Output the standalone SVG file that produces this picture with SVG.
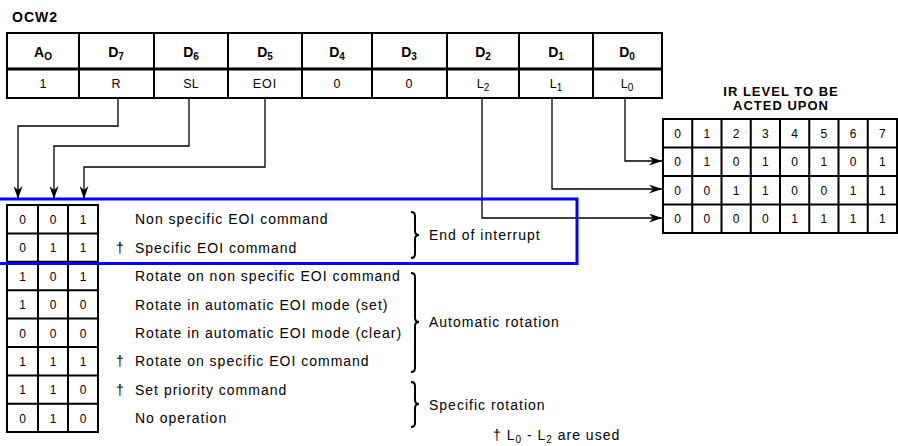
<svg xmlns="http://www.w3.org/2000/svg" width="898" height="446" viewBox="0 0 898 446">
<defs>
<style>
text{font-family:"Liberation Sans",Arial,sans-serif;fill:#000}
.hd{font-size:14px;font-weight:bold;text-anchor:middle}
.cv{font-size:12.5px;text-anchor:middle}
.dg{font-size:12px;text-anchor:middle}
.ds{font-size:14px;letter-spacing:1px}
.ttl{font-size:13px;font-weight:bold}
.ln{fill:none;stroke:#000;stroke-width:1.3}
.grid{fill:none;stroke:#000;stroke-width:2}
.brace{fill:none;stroke:#000;stroke-width:2}
.sub{font-size:10px}
</style>
<marker id="arr" viewBox="0 0 13 9" refX="13" refY="4.5" markerWidth="13" markerHeight="9" markerUnits="userSpaceOnUse" orient="auto">
<path d="M0,0 L13,4.5 L0,9 L4,4.5 z" fill="#000"/>
</marker>
</defs>
<rect width="898" height="446" fill="#fff"/>

<text class="ttl" x="12" y="22" style="font-size:14px;letter-spacing:1px">OCW2</text>

<g id="ocw2-register">
<rect class="grid" x="7" y="33" width="655" height="65"/>
<line x1="7" y1="69" x2="662" y2="69" stroke="#000" stroke-width="3"/>
<path class="grid" d="M79 33V98M154 33V98M228 33V98M302 33V98M372 33V98M447 33V98M519 33V98M593 33V98"/>
<text class="hd" x="43" y="57">A<tspan class="sub" dy="3">O</tspan></text>
<text class="hd" x="116" y="57">D<tspan class="sub" dy="3">7</tspan></text>
<text class="hd" x="191" y="57">D<tspan class="sub" dy="3">6</tspan></text>
<text class="hd" x="265" y="57">D<tspan class="sub" dy="3">5</tspan></text>
<text class="hd" x="337" y="57">D<tspan class="sub" dy="3">4</tspan></text>
<text class="hd" x="409" y="57">D<tspan class="sub" dy="3">3</tspan></text>
<text class="hd" x="483" y="57">D<tspan class="sub" dy="3">2</tspan></text>
<text class="hd" x="556" y="57">D<tspan class="sub" dy="3">1</tspan></text>
<text class="hd" x="627" y="57">D<tspan class="sub" dy="3">0</tspan></text>
<text class="cv" x="43" y="88">1</text>
<text class="cv" x="116" y="88">R</text>
<text class="cv" x="191" y="88">SL</text>
<text class="cv" x="265" y="88" style="letter-spacing:1px">EOI</text>
<text class="cv" x="337" y="88">0</text>
<text class="cv" x="409" y="88">0</text>
<text class="cv" x="483" y="88">L<tspan class="sub" dy="3">2</tspan></text>
<text class="cv" x="556" y="88">L<tspan class="sub" dy="3">1</tspan></text>
<text class="cv" x="627" y="88">L<tspan class="sub" dy="3">0</tspan></text>
</g>

<g id="ir-level-table">
<text class="ttl" x="781" y="96" text-anchor="middle" style="letter-spacing:1px">IR LEVEL TO BE</text>
<text class="ttl" x="781" y="110" text-anchor="middle" style="letter-spacing:1px">ACTED UPON</text>
<rect class="grid" x="663" y="119" width="234" height="114"/>
<path class="grid" d="M663 147.5H897M663 176H897M663 204.5H897M692.25 119V233M721.5 119V233M750.75 119V233M780 119V233M809.25 119V233M838.5 119V233M867.75 119V233"/>
<g class="dg">
<text x="677.6" y="137.5">0</text><text x="706.9" y="137.5">1</text><text x="736.1" y="137.5">2</text><text x="765.4" y="137.5">3</text><text x="794.6" y="137.5">4</text><text x="823.9" y="137.5">5</text><text x="853.1" y="137.5">6</text><text x="882.4" y="137.5">7</text>
<text x="677.6" y="166">0</text><text x="706.9" y="166">1</text><text x="736.1" y="166">0</text><text x="765.4" y="166">1</text><text x="794.6" y="166">0</text><text x="823.9" y="166">1</text><text x="853.1" y="166">0</text><text x="882.4" y="166">1</text>
<text x="677.6" y="194.5">0</text><text x="706.9" y="194.5">0</text><text x="736.1" y="194.5">1</text><text x="765.4" y="194.5">1</text><text x="794.6" y="194.5">0</text><text x="823.9" y="194.5">0</text><text x="853.1" y="194.5">1</text><text x="882.4" y="194.5">1</text>
<text x="677.6" y="223">0</text><text x="706.9" y="223">0</text><text x="736.1" y="223">0</text><text x="765.4" y="223">0</text><text x="794.6" y="223">1</text><text x="823.9" y="223">1</text><text x="853.1" y="223">1</text><text x="882.4" y="223">1</text>
</g>
</g>

<g id="connectors">
<path class="ln" d="M118 98V126H18V199" marker-end="url(#arr)"/>
<path class="ln" d="M189 98V146H54V199" marker-end="url(#arr)"/>
<path class="ln" d="M265 98V167H84V199" marker-end="url(#arr)"/>
<path class="ln" d="M625 98V161H662" marker-end="url(#arr)"/>
<path class="ln" d="M552 98V189H662" marker-end="url(#arr)"/>
<path class="ln" d="M482 98V218H662" marker-end="url(#arr)"/>
</g>

<g id="command-table">
<rect class="grid" x="7" y="205" width="91" height="227"/>
<path class="grid" d="M38 205V432M68 205V432M7 233.4H98M7 261.8H98M7 290.2H98M7 318.6H98M7 347H98M7 375.4H98M7 403.8H98"/>
<g class="dg">
<text x="22.5" y="223.5">0</text><text x="53" y="223.5">0</text><text x="83" y="223.5">1</text>
<text x="22.5" y="252">0</text><text x="53" y="252">1</text><text x="83" y="252">1</text>
<text x="22.5" y="280.5">1</text><text x="53" y="280.5">0</text><text x="83" y="280.5">1</text>
<text x="22.5" y="309">1</text><text x="53" y="309">0</text><text x="83" y="309">0</text>
<text x="22.5" y="337.5">0</text><text x="53" y="337.5">0</text><text x="83" y="337.5">0</text>
<text x="22.5" y="365.5">1</text><text x="53" y="365.5">1</text><text x="83" y="365.5">1</text>
<text x="22.5" y="394">1</text><text x="53" y="394">1</text><text x="83" y="394">0</text>
<text x="22.5" y="422.5">0</text><text x="53" y="422.5">1</text><text x="83" y="422.5">0</text>
</g>
</g>

<g id="descriptions">
<text class="ds" x="135" y="224">Non specific EOI command</text>
<text class="ds" x="116" y="252.5">†</text>
<text class="ds" x="135" y="252.5">Specific EOI command</text>
<text class="ds" x="135" y="281">Rotate on non specific EOI command</text>
<text class="ds" x="135" y="309.5">Rotate in automatic EOI mode (set)</text>
<text class="ds" x="135" y="338">Rotate in automatic EOI mode (clear)</text>
<text class="ds" x="116" y="366">†</text>
<text class="ds" x="135" y="366">Rotate on specific EOI command</text>
<text class="ds" x="116" y="394.5">†</text>
<text class="ds" x="135" y="394.5">Set priority command</text>
<text class="ds" x="135" y="423">No operation</text>
</g>

<g id="group-end-of-interrupt">
<path class="brace" d="M411 212Q415 212 415 216V231Q415 235 419 235Q415 235 415 239V254Q415 258 411 258"/>
<text class="ds" x="429" y="240">End of interrupt</text>
</g>
<g id="group-automatic-rotation">
<path class="brace" d="M411 273Q415 273 415 277V318Q415 322 419 322Q415 322 415 326V368Q415 372 411 372"/>
<text class="ds" x="429" y="327">Automatic rotation</text>
</g>
<g id="group-specific-rotation">
<path class="brace" d="M411 382Q415 382 415 386V400Q415 404 419 404Q415 404 415 408V423Q415 427 411 427"/>
<text class="ds" x="429" y="410">Specific rotation</text>
</g>

<text class="ds" x="493" y="440">† L<tspan class="sub" dy="3">0</tspan><tspan dy="-3"> - L</tspan><tspan class="sub" dy="3">2</tspan><tspan dy="-3"> are used</tspan></text>

<rect id="highlight" x="-5" y="199" width="582" height="64.5" fill="none" stroke="#0000ff" stroke-width="3"/>
</svg>
